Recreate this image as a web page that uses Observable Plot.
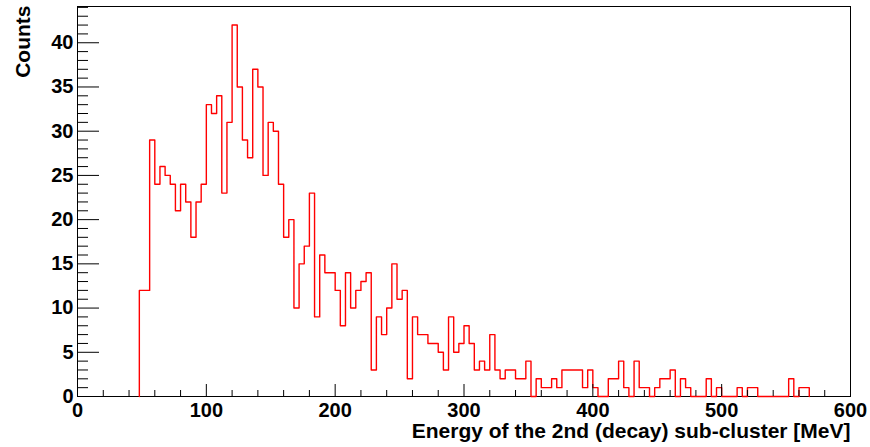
<!DOCTYPE html>
<html>
<head>
<meta charset="utf-8">
<script src="https://cdn.jsdelivr.net/npm/d3@7"></script>
<script src="https://cdn.jsdelivr.net/npm/@observablehq/plot@0.6"></script>
<style>
  html, body { margin: 0; padding: 0; background: #fff; }
</style>
</head>
<body>
<div id="chart"></div>
<script>
// Histogram: bins of 4 MeV starting at 48 MeV
const binStart = 48;
const binWidth = 4;
const counts = [
  12, 12, 29, 24, 26, 25, 24, 21, 24, 22, // 48..84
  18, 22, 24, 33, 32, 34, 23, 31, 42, 35, // 88..124
  29, 27, 37, 35, 25, 31, 30, 24, 18, 20, // 128..164
  10, 15, 17, 23, 9, 16, 14, 14, 12, 8,   // 168..204
  14, 10, 12, 13, 14, 3, 9, 7, 10, 15,    // 208..244
  11, 12, 2, 9, 7, 7, 6, 6, 5, 3,         // 248..284
  9, 5, 6, 8, 6, 3, 4, 3, 7, 3,           // 288..324
  2, 3, 3, 2, 2, 4, 0, 2, 1, 1,           // 328..364
  2, 1, 3, 3, 3, 3, 1, 3, 1, 0,           // 368..404
  0, 2, 2, 4, 1, 0, 4, 1, 1, 0,           // 408..444
  1, 2, 2, 3, 0, 2, 1, 0, 0, 0,           // 448..484
  2, 0, 1, 0, 0, 0, 1, 0, 1, 1,           // 488..524
  0, 0, 0, 0, 0, 0, 2, 0, 1, 1            // 528..564
];
const xMajorTicks = [0, 100, 200, 300, 400, 500, 600];
const xMinorTicks = [20, 40, 60, 80, 120, 140, 160, 180, 220, 240, 260, 280, 320, 340, 360, 380, 420, 440, 460, 480, 520, 540, 560, 580];
const yMajorTicks = [0, 5, 10, 15, 20, 25, 30, 35, 40];
const yMinorTicks = [1,2,3,4,6,7,8,9,11,12,13,14,16,17,18,19,21,22,23,24,26,27,28,29,31,32,33,34,36,37,38,39,41,42,43,44];
const xTitle = "Energy of the 2nd (decay) sub-cluster [MeV]";
const yTitle = "Counts";

const W = 870, H = 447;
const mL = 77, mR = 20, mT = 6, mB = 51;
const plotW = W - mL - mR, plotH = H - mT - mB;

const pts = [{x: binStart, y: 0}]
  .concat(counts.map((c, i) => ({x: binStart + i * binWidth, y: c})))
  .concat([{x: binStart + counts.length * binWidth, y: 0}]);

const chart = Plot.plot({
  width: W, height: H,
  marginLeft: mL, marginRight: mR, marginTop: mT, marginBottom: mB,
  x: {domain: [0, 600]},
  y: {domain: [0, 44.1]},
  style: {fontFamily: "'Liberation Sans', Arial, Helvetica, sans-serif", fontWeight: "bold", fontSize: "20px", color: "black", background: "white", overflow: "visible"},
  marks: [
    Plot.frame({stroke: "black", strokeWidth: 1}),
    Plot.line(pts, {x: "x", y: "y", curve: "step-after", stroke: "#ff0000", strokeWidth: 1.4}),
    Plot.ruleX(xMinorTicks, {insetTop: plotH - 6, stroke: "black", strokeWidth: 1}),
    Plot.ruleX(xMajorTicks, {insetTop: plotH - 12, stroke: "black", strokeWidth: 1}),
    Plot.ruleY(yMinorTicks.filter(d => d <= 44.1), {insetRight: plotW - 11, stroke: "black", strokeWidth: 1}),
    Plot.ruleY(yMajorTicks, {insetRight: plotW - 22, stroke: "black", strokeWidth: 1}),
    Plot.axisX(xMajorTicks, {tickSize: 0, tickPadding: 6, label: null, fontSize: 20, tickFormat: d => String(d)}),
    Plot.axisY(yMajorTicks, {tickSize: 0, tickPadding: 4, label: null, fontSize: 20, tickFormat: d => String(d)}),
    Plot.text([yTitle], {frameAnchor: "top-left", rotate: -90, textAnchor: "end", lineAnchor: "middle", dx: -54, dy: -1, fontSize: 21}),
    Plot.text([xTitle], {frameAnchor: "bottom-right", textAnchor: "end", lineAnchor: "middle", dy: 35, fontSize: 21})
  ]
});
document.getElementById("chart").appendChild(chart);
</script>
</body>
</html>
